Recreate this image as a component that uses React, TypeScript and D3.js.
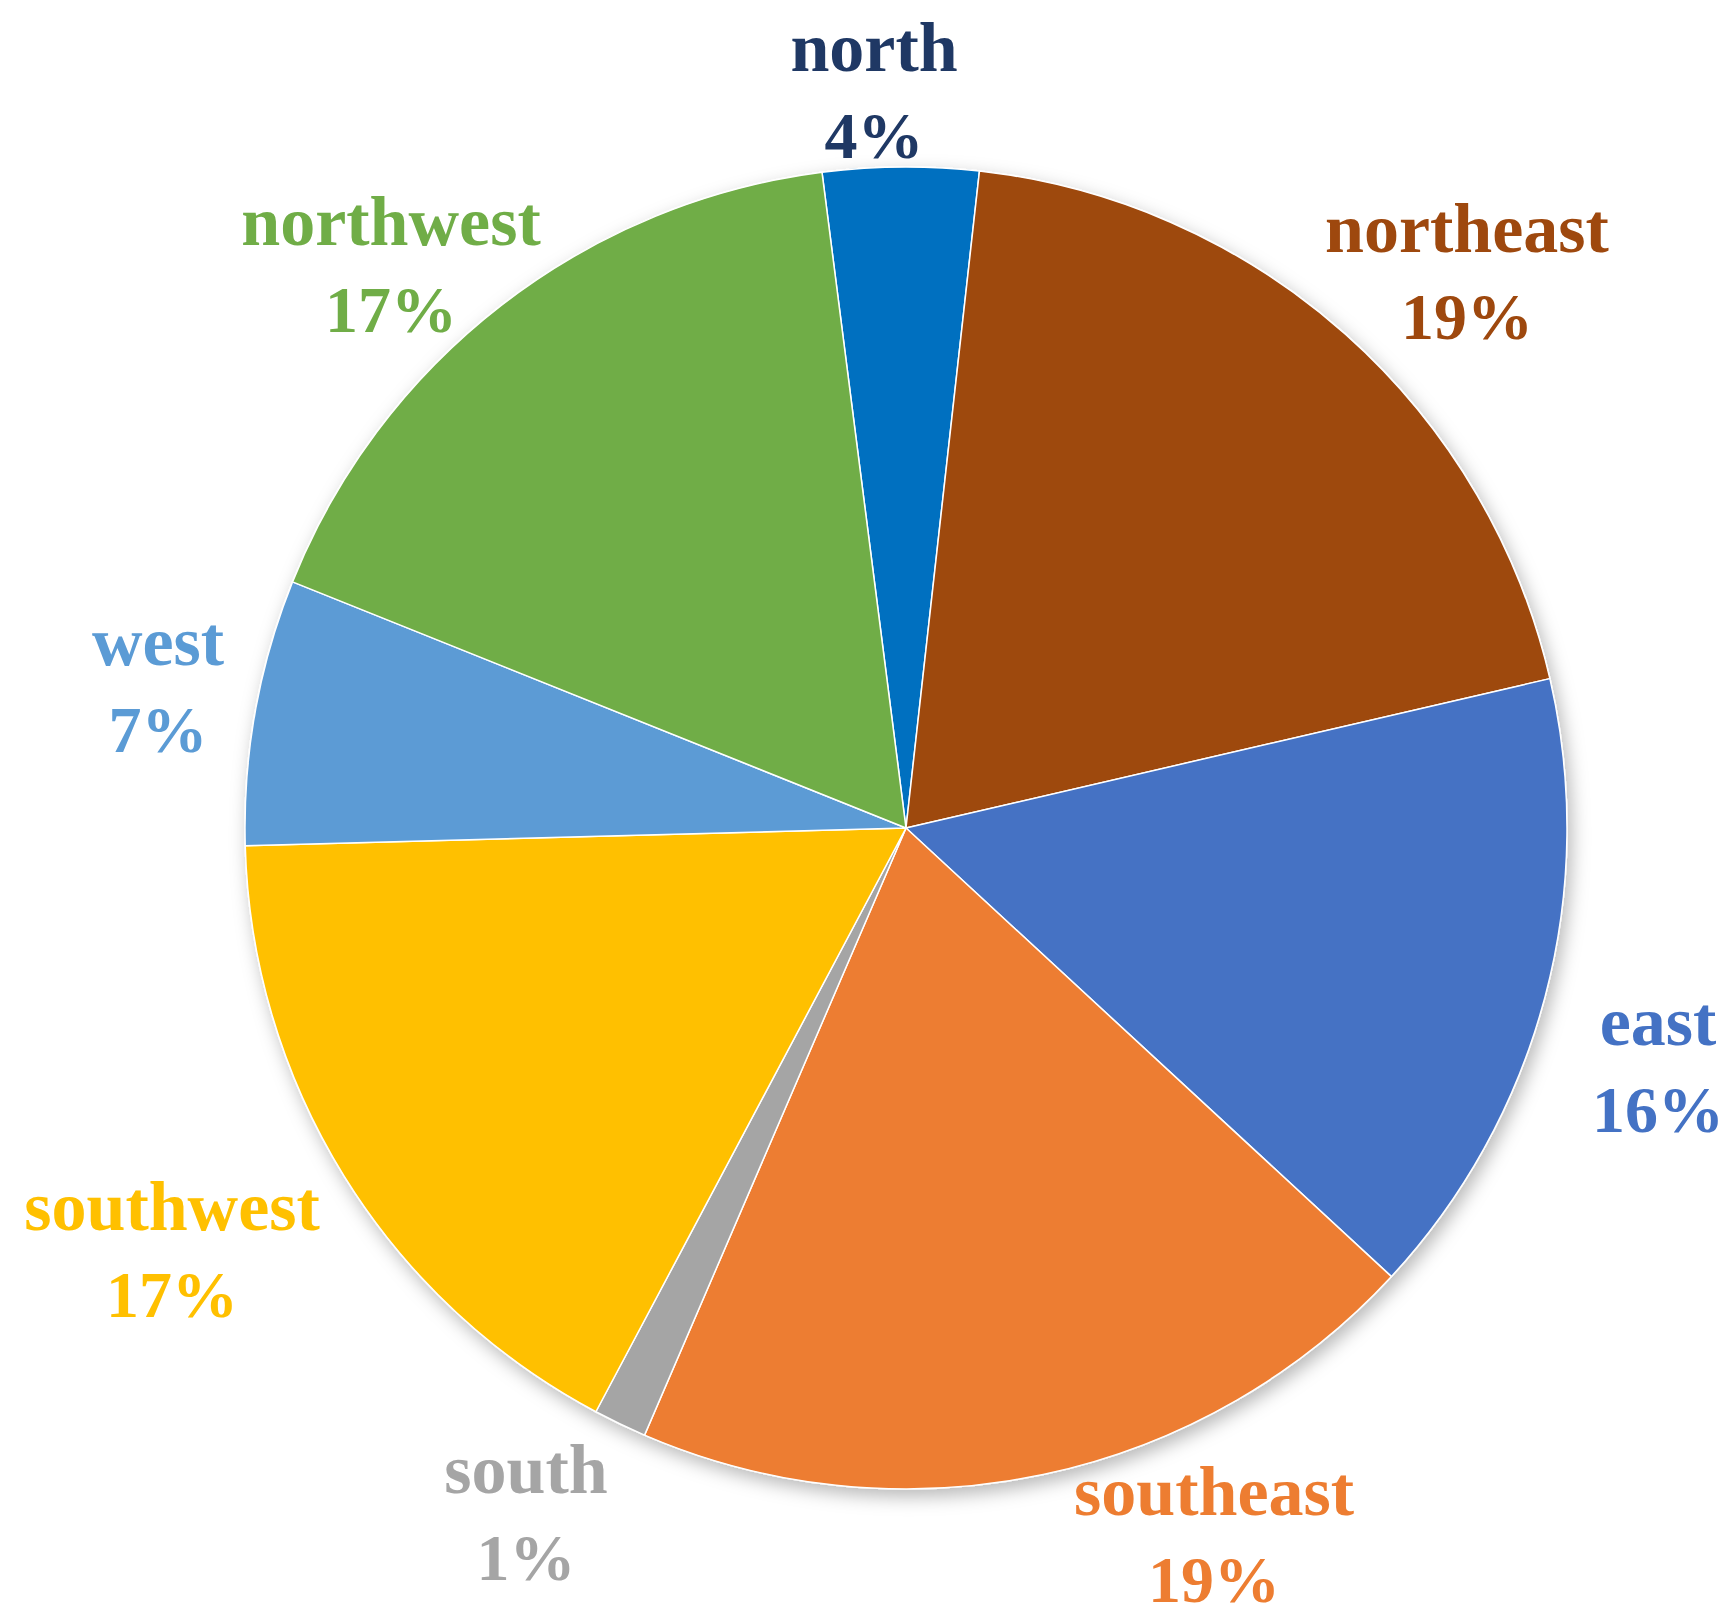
import React from "react";
import * as d3 from "d3";

const categories = ["north", "northeast", "east", "southeast", "south", "southwest", "west", "northwest"];
const values = [3.8, 19.6, 15.5, 19.6, 1.3, 16.8, 6.5, 16.9];
const percentLabels = ["4%", "19%", "16%", "19%", "1%", "17%", "7%", "17%"];
const sliceColors = ["#0070C0", "#9E480E", "#4472C4", "#ED7D31", "#A5A5A5", "#FFC000", "#5B9BD5", "#70AD47"];
const labelColors = ["#1F3864", "#9E480E", "#4472C4", "#ED7D31", "#A5A5A5", "#FFC000", "#5B9BD5", "#70AD47"];
// label anchor positions (center x, name baseline y)
const labelX = [874, 1467, 1658, 1214, 526, 172, 158, 391];
const labelY = [71, 252, 1045, 1515, 1493, 1230, 665, 245];

const W = 1732;
const H = 1624;
const cx = 906;
const cy = 828;
const R = 661;
const startDeg = -7.3;

export default function App() {
  const pie = d3
    .pie<number>()
    .sort(null)
    .value((d) => d)
    .startAngle((startDeg * Math.PI) / 180)
    .endAngle((startDeg * Math.PI) / 180 + 2 * Math.PI);
  const arcs = pie(values);
  const arc = d3.arc<d3.PieArcDatum<number>>().innerRadius(0).outerRadius(R);
  const fontFamily = "'Palatino Linotype', 'Book Antiqua', Palatino, 'Liberation Serif', serif";

  return (
    <svg
      width={W}
      height={H}
      viewBox={`0 0 ${W} ${H}`}
      style={{ position: "absolute", left: 0, top: 0, display: "block", background: "#fff" }}
    >
      <defs>
        <filter id="shadow" x="-10%" y="-10%" width="120%" height="120%">
          <feDropShadow dx="4" dy="7" stdDeviation="9" floodColor="#000" floodOpacity="0.28" />
        </filter>
      </defs>
      <g transform={`translate(${cx},${cy})`} filter="url(#shadow)">
        {arcs.map((a, i) => (
          <path key={categories[i]} d={arc(a) || ""} fill={sliceColors[i]} stroke="#ffffff" strokeWidth={1.5} strokeLinejoin="round" />
        ))}
      </g>
      <g fontFamily={fontFamily} fontWeight="bold" textAnchor="middle">
        {categories.map((c, i) => (
          <g key={c} fill={labelColors[i]}>
            <text x={labelX[i]} y={labelY[i]} fontSize={70}>{c}</text>
            <text x={labelX[i]} y={labelY[i] + 87} fontSize={66}>{percentLabels[i]}</text>
          </g>
        ))}
      </g>
    </svg>
  );
}
